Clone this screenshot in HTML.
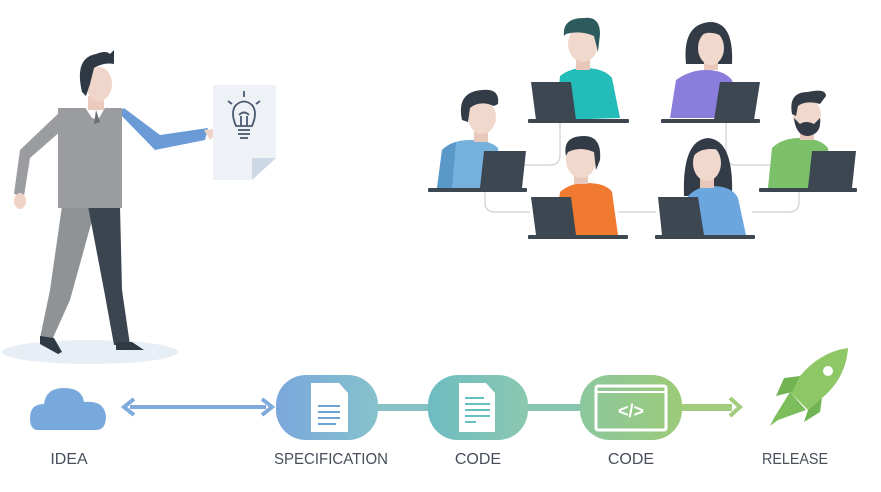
<!DOCTYPE html>
<html><head><meta charset="utf-8"><style>
html,body{margin:0;padding:0;background:#fff;}
svg{display:block}
text{font-family:"Liberation Sans",sans-serif;}
</style></head><body>
<svg width="881" height="492" viewBox="0 0 881 492" xmlns="http://www.w3.org/2000/svg">
<defs>
<linearGradient id="g1" x1="0" x2="1"><stop offset="0" stop-color="#7aa7dc"/><stop offset="1" stop-color="#86c2cc"/></linearGradient>
<linearGradient id="g2" x1="0" x2="1"><stop offset="0" stop-color="#6dbcc2"/><stop offset="1" stop-color="#8cc8b0"/></linearGradient>
<linearGradient id="g3" x1="0" x2="1"><stop offset="0" stop-color="#8cc79e"/><stop offset="1" stop-color="#9ccb78"/></linearGradient>
</defs>
<rect width="881" height="492" fill="#fff"/>

<!-- man -->
<ellipse cx="90" cy="352" rx="88" ry="12" fill="#e8eef5"/>
<path d="M62 206 L96 206 L70 300 L52 340 L40 338 L50 290 Z" fill="#8f9396"/>
<path d="M88 206 L120 206 L122 290 L130 345 L114 345 L104 290 Z" fill="#3a4550"/>
<path d="M40 336 L54 338 L62 352 L58 354 L40 344 Z" fill="#2f3a45"/>
<path d="M116 342 L132 342 L144 350 L116 350 Z" fill="#2f3a45"/>
<path d="M62 110 L20 150 L14 194 L24 196 L30 158 L62 130 Z" fill="#9a9c9f"/>
<ellipse cx="20" cy="201" rx="6" ry="8" fill="#efd3c6"/>
<path d="M118 112 L155 150 L205 140 L208 128 L160 135 L124 108 Z" fill="#6b9bd6"/>
<path d="M204 130 L222 128 L210 140 Z" fill="#efd3c6"/>
<path d="M58 108 L122 108 L122 208 L58 208 Z" fill="#9a9c9f"/>
<path d="M84 106 L106 106 L98 120 L92 118 Z" fill="#fff"/>
<path d="M96 110 L100 122 L94 124 Z" fill="#6b7075"/>
<rect x="88" y="96" width="16" height="14" fill="#ebcbbd"/>
<ellipse cx="99" cy="84" rx="13" ry="17" fill="#f0d6ca"/>
<path d="M82 92 Q74 58 96 54 Q106 50 110 54 L114 50 L114 64 Q104 62 94 68 L90 84 L86 96 Z" fill="#2e3944"/>
<!-- paper -->
<path d="M213 85 L276 85 L276 158 L252 180 L213 180 Z" fill="#eef2f7"/>
<path d="M276 158 L252 158 L252 180 Z" fill="#cdd8e6"/>
<g fill="none" stroke="#4a5870" stroke-width="1.8">
<path d="M236 126 Q230 112 236 105 Q244 98 252 105 Q258 112 252 126 Z"/>
<line x1="238" y1="130" x2="250" y2="130"/><line x1="238" y1="134" x2="250" y2="134"/><line x1="240" y1="138" x2="248" y2="138"/>
<path d="M241 126 L241 116 M247 126 L247 116 M239 115 Q244 110 249 115"/>
<line x1="244" y1="91" x2="244" y2="97"/><line x1="228" y1="101" x2="232" y2="104"/><line x1="260" y1="101" x2="256" y2="104"/>
</g>

<!-- connectors team -->
<g fill="none" stroke="#d5d8db" stroke-width="1.5">
<path d="M560 123 V155 Q560 165 550 165 H524"/>
<path d="M485 192 V202 Q485 212 495 212 H530"/>
<path d="M618 212 H656"/>
<path d="M726 123 V155 Q726 165 736 165 H770"/>
<path d="M799 192 V202 Q799 212 789 212 H752"/>
</g>

<!-- P1 teal -->
<path d="M556 120 L560 76 Q570 68 584 68 Q604 68 612 78 L620 118 Z" fill="#24bcb8"/>
<rect x="576" y="58" width="14" height="12" fill="#e8c8ba"/>
<ellipse cx="583" cy="44" rx="15" ry="18" fill="#f0d8cd"/>
<path d="M564 36 Q562 18 584 18 Q600 16 600 34 L598 52 L594 36 Q580 30 566 34 Z" fill="#2d5a5c"/>
<path d="M531 82 L571 82 L576 120 L536 120 Z" fill="#3c4752"/>
<rect x="528" y="119" width="101" height="4" rx="1" fill="#3c4752"/>
<!-- P2 purple -->
<path d="M670 118 L676 80 Q690 70 706 70 Q724 70 732 80 L740 118 Z" fill="#8a7ddc"/>
<path d="M686 64 Q682 24 710 22 Q734 22 732 64 Z" fill="#333c46"/>
<rect x="704" y="58" width="14" height="12" fill="#e8c8ba"/>
<ellipse cx="711" cy="48" rx="13" ry="17" fill="#f0d8cd"/>
<path d="M698 40 Q704 28 722 36 L724 30 Q710 22 698 32 Z" fill="#333c46"/>
<path d="M720 82 L760 82 L754 120 L714 120 Z" fill="#3c4752"/>
<rect x="661" y="119" width="99" height="4" rx="1" fill="#3c4752"/>
<!-- P3 blue -->
<path d="M437 188 L442 150 Q452 140 470 140 Q490 140 498 148 L500 188 Z" fill="#76b0dc"/>
<path d="M437 188 L442 150 Q448 144 456 142 L452 188 Z" fill="#5a98c8"/>
<rect x="474" y="128" width="14" height="14" fill="#e8c8ba"/>
<ellipse cx="482" cy="117" rx="14" ry="17" fill="#f0d8cd"/>
<path d="M462 120 Q456 92 482 90 Q500 88 498 104 L494 106 Q480 100 470 108 L468 122 Z" fill="#333c46"/>
<path d="M484 151 L526 151 L522 188 L480 188 Z" fill="#3c4752"/>
<rect x="428" y="188" width="99" height="4" rx="1" fill="#3c4752"/>
<!-- P4 orange -->
<path d="M555 235 L560 192 Q570 183 586 183 Q606 183 612 192 L618 235 Z" fill="#ef7a30"/>
<rect x="574" y="172" width="14" height="12" fill="#e8c8ba"/>
<ellipse cx="581" cy="160" rx="15" ry="18" fill="#f0d8cd"/>
<path d="M566 156 Q562 136 584 136 Q602 136 600 160 L596 170 L594 152 Q580 146 568 152 Z" fill="#333c46"/>
<path d="M531 197 L571 197 L576 235 L536 235 Z" fill="#3c4752"/>
<rect x="528" y="235" width="100" height="4" rx="1" fill="#3c4752"/>
<!-- P5 blue woman -->
<path d="M684 196 Q682 140 708 138 Q734 140 732 196 Z" fill="#333c46"/>
<path d="M683 235 L688 196 Q698 186 712 186 Q732 186 738 198 L746 235 Z" fill="#6ca6de"/>
<rect x="700" y="176" width="14" height="12" fill="#e8c8ba"/>
<ellipse cx="707" cy="163" rx="14" ry="18" fill="#f0d8cd"/>
<path d="M692 158 Q700 146 720 150 L718 142 Q700 140 692 150 Z" fill="#333c46"/>
<path d="M658 197 L698 197 L704 235 L662 235 Z" fill="#3c4752"/>
<rect x="655" y="235" width="100" height="4" rx="1" fill="#3c4752"/>
<!-- P6 green beard -->
<path d="M768 188 L772 148 Q782 138 800 138 Q820 138 828 148 L832 188 Z" fill="#7cc06a"/>
<rect x="800" y="126" width="14" height="14" fill="#e8c8ba"/>
<ellipse cx="807" cy="116" rx="14" ry="18" fill="#f0d8cd"/>
<path d="M794 118 Q796 136 808 136 Q822 134 820 118 L814 124 Q806 120 800 124 Z" fill="#333c46"/>
<path d="M792 114 Q788 92 808 92 Q826 88 826 96 L820 104 Q806 100 798 106 L796 116 Z" fill="#333c46"/>
<path d="M812 151 L856 151 L852 188 L808 188 Z" fill="#3c4752"/>
<rect x="759" y="188" width="98" height="4" rx="1" fill="#3c4752"/>

<!-- bottom flow -->
<path d="M38 430 Q30 430 30 418 Q30 404 44 404 Q46 388 64 388 Q82 388 84 402 Q104 400 106 416 Q106 430 96 430 Z" fill="#78a9dc"/>
<line x1="130" y1="407" x2="266" y2="407" stroke="#7eaadc" stroke-width="4"/>
<path d="M134 399 L124 407 L134 415" fill="none" stroke="#7eaadc" stroke-width="4"/>
<path d="M262 399 L272 407 L262 415" fill="none" stroke="#7eaadc" stroke-width="4"/>
<rect x="370" y="404" width="64" height="7" fill="#84c2c6"/>
<rect x="522" y="404" width="64" height="7" fill="#86c4ae"/>
<rect x="676" y="404" width="56" height="7" fill="#a2cc7e"/>
<path d="M730 398 L740 407 L730 416" fill="none" stroke="#a2cc7e" stroke-width="4"/>
<rect x="276" y="375" width="102" height="65" rx="30" fill="url(#g1)"/>
<rect x="428" y="375" width="100" height="65" rx="30" fill="url(#g2)"/>
<rect x="580" y="375" width="102" height="65" rx="30" fill="url(#g3)"/>
<path d="M311 383 L339 383 L348 393 L348 432 L311 432 Z" fill="#fff"/>
<g stroke="#6ca2d8" stroke-width="2"><line x1="318" y1="406" x2="340" y2="406"/><line x1="318" y1="412" x2="340" y2="412"/><line x1="318" y1="418" x2="340" y2="418"/><line x1="318" y1="424" x2="336" y2="424"/></g>
<path d="M459 383 L486 383 L495 393 L495 432 L459 432 Z" fill="#fff"/>
<g stroke="#66c0c0" stroke-width="2"><line x1="465" y1="398" x2="484" y2="398"/><line x1="465" y1="404" x2="490" y2="404"/><line x1="465" y1="410" x2="490" y2="410"/><line x1="465" y1="416" x2="490" y2="416"/><line x1="465" y1="422" x2="476" y2="422"/></g>
<rect x="596" y="386" width="70" height="44" rx="2" fill="none" stroke="#fff" stroke-width="3"/>
<line x1="596" y1="392" x2="666" y2="392" stroke="#fff" stroke-width="2"/>
<text x="631" y="417" text-anchor="middle" font-size="18" font-weight="bold" fill="#fff">&lt;/&gt;</text>
<!-- rocket -->
<path d="M848 348 Q820 352 800 376 L790 392 L808 410 L822 398 Q846 378 848 348 Z" fill="#8ec766"/>
<circle cx="828" cy="371" r="5" fill="#fff"/>
<path d="M800 376 L784 378 L776 396 L792 392 Z" fill="#72b454"/>
<path d="M822 398 L820 412 L804 422 L808 410 Z" fill="#72b454"/>
<path d="M790 392 L774 418 L770 426 L778 420 L806 410 Z" fill="#7cbd5c"/>
<g font-size="16" fill="#474f5b" text-anchor="middle">
<text x="69" y="464">IDEA</text>
<text x="331" y="464" textLength="114" lengthAdjust="spacingAndGlyphs">SPECIFICATION</text>
<text x="478" y="464">CODE</text>
<text x="631" y="464">CODE</text>
<text x="795" y="464" textLength="66" lengthAdjust="spacingAndGlyphs">RELEASE</text>
</g>
</svg>
</body></html>
